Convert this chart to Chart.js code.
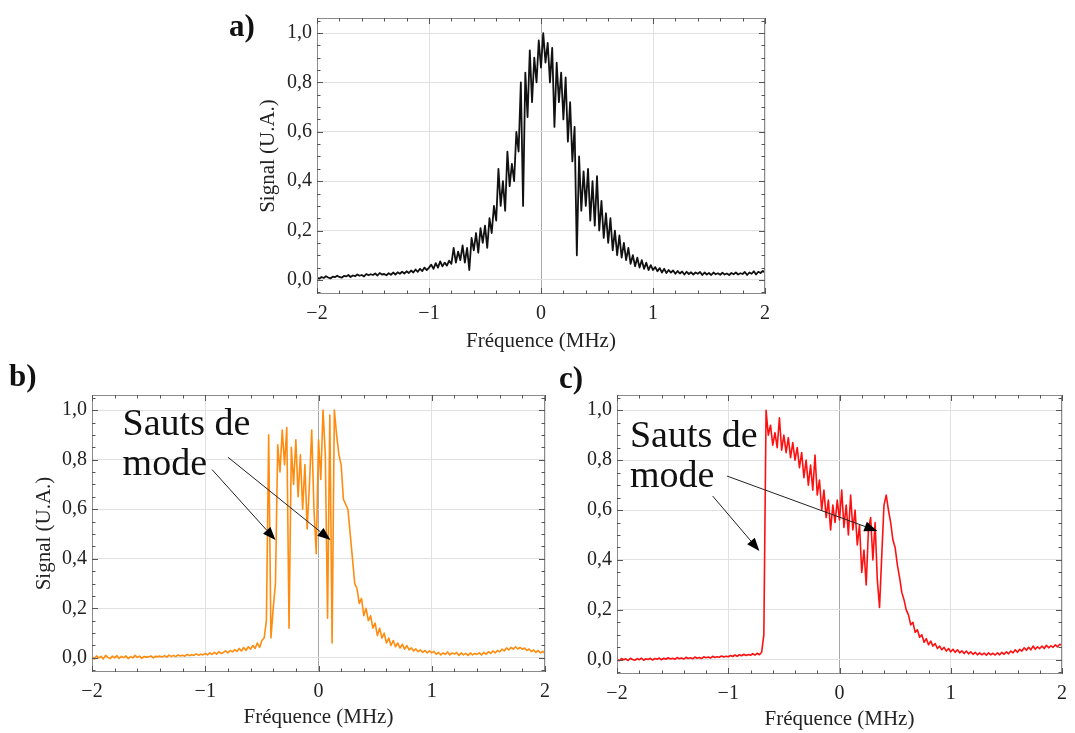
<!DOCTYPE html>
<html>
<head>
<meta charset="utf-8">
<script src="https://cdn.jsdelivr.net/npm/chart.js@4"></script>
<style>
  body { margin: 0; background: #fff; }
  #page { position: relative; width: 1075px; height: 733px; }
  #page canvas { position: absolute; left: 0; top: 0; }
</style>
</head>
<body>
<div id="page">
  <canvas id="chartA" width="1075" height="733"></canvas>
  <canvas id="chartB" width="1075" height="733"></canvas>
  <canvas id="chartC" width="1075" height="733"></canvas>
</div>
<script>
// fréquences (MHz), pas de 0,02
const freq = [
  -2,-1.98,-1.96,-1.94,-1.92,-1.9,-1.88,-1.86,-1.84,-1.82,
  -1.8,-1.78,-1.76,-1.74,-1.72,-1.7,-1.68,-1.66,-1.64,-1.62,
  -1.6,-1.58,-1.56,-1.54,-1.52,-1.5,-1.48,-1.46,-1.44,-1.42,
  -1.4,-1.38,-1.36,-1.34,-1.32,-1.3,-1.28,-1.26,-1.24,-1.22,
  -1.2,-1.18,-1.16,-1.14,-1.12,-1.1,-1.08,-1.06,-1.04,-1.02,
  -1,-0.98,-0.96,-0.94,-0.92,-0.9,-0.88,-0.86,-0.84,-0.82,
  -0.8,-0.78,-0.76,-0.74,-0.72,-0.7,-0.68,-0.66,-0.64,-0.62,
  -0.6,-0.58,-0.56,-0.54,-0.52,-0.5,-0.48,-0.46,-0.44,-0.42,
  -0.4,-0.38,-0.36,-0.34,-0.32,-0.3,-0.28,-0.26,-0.24,-0.22,
  -0.2,-0.18,-0.16,-0.14,-0.12,-0.1,-0.08,-0.06,-0.04,-0.02,
  0,0.02,0.04,0.06,0.08,0.1,0.12,0.14,0.16,0.18,
  0.2,0.22,0.24,0.26,0.28,0.3,0.32,0.34,0.36,0.38,
  0.4,0.42,0.44,0.46,0.48,0.5,0.52,0.54,0.56,0.58,
  0.6,0.62,0.64,0.66,0.68,0.7,0.72,0.74,0.76,0.78,
  0.8,0.82,0.84,0.86,0.88,0.9,0.92,0.94,0.96,0.98,
  1,1.02,1.04,1.06,1.08,1.1,1.12,1.14,1.16,1.18,
  1.2,1.22,1.24,1.26,1.28,1.3,1.32,1.34,1.36,1.38,
  1.4,1.42,1.44,1.46,1.48,1.5,1.52,1.54,1.56,1.58,
  1.6,1.62,1.64,1.66,1.68,1.7,1.72,1.74,1.76,1.78,
  1.8,1.82,1.84,1.86,1.88,1.9,1.92,1.94,1.96,1.98,
  2
];

// a) signal sans sauts de mode
const signalA = [
  0.01,0.005,0.012,0.008,0.015,0.01,0.006,0.013,0.011,0.017,
  0.012,0.009,0.016,0.014,0.02,0.012,0.018,0.015,0.022,0.017,
  0.02,0.014,0.024,0.019,0.023,0.02,0.026,0.018,0.028,0.022,
  0.024,0.019,0.027,0.021,0.03,0.022,0.031,0.025,0.033,0.026,
  0.035,0.028,0.038,0.03,0.042,0.033,0.045,0.036,0.05,0.04,
  0.05,0.062,0.045,0.068,0.05,0.075,0.055,0.07,0.058,0.078,
  0.065,0.13,0.07,0.115,0.08,0.14,0.07,0.13,0.04,0.17,
  0.12,0.19,0.11,0.21,0.15,0.22,0.13,0.25,0.19,0.3,
  0.24,0.45,0.3,0.4,0.28,0.52,0.38,0.47,0.4,0.6,
  0.52,0.8,0.3,0.84,0.66,0.93,0.72,0.9,0.8,0.97,
  0.86,1.0,0.88,0.96,0.8,0.94,0.62,0.88,0.72,0.84,
  0.65,0.82,0.56,0.72,0.48,0.62,0.1,0.5,0.28,0.44,
  0.3,0.45,0.24,0.4,0.22,0.42,0.2,0.32,0.17,0.27,
  0.15,0.25,0.12,0.2,0.1,0.18,0.09,0.15,0.08,0.13,
  0.065,0.1,0.055,0.09,0.05,0.08,0.045,0.07,0.04,0.06,
  0.04,0.052,0.035,0.048,0.03,0.045,0.028,0.04,0.03,0.038,
  0.025,0.036,0.026,0.034,0.022,0.033,0.024,0.031,0.022,0.03,
  0.025,0.032,0.02,0.03,0.022,0.028,0.02,0.03,0.023,0.027,
  0.021,0.029,0.022,0.026,0.02,0.028,0.023,0.03,0.022,0.027,
  0.024,0.032,0.02,0.03,0.025,0.035,0.022,0.033,0.028,0.036,
  0.03
];

// b) sauts de mode (orange)
const signalB = [
  0.005,-0.005,0.008,0,0.006,-0.004,0.01,0.002,-0.003,0.007,
  0,0.009,-0.002,0.006,0.001,0.008,-0.003,0.005,0,0.01,
  0.002,0.007,-0.002,0.006,0.003,0.004,0.008,0,0.006,0.005,
  0.007,0.004,0.009,0.003,0.011,0.006,0.01,0.005,0.012,0.008,
  0.011,0.007,0.014,0.009,0.013,0.01,0.016,0.011,0.015,0.012,
  0.018,0.012,0.02,0.014,0.022,0.015,0.025,0.018,0.022,0.028,
  0.02,0.03,0.024,0.033,0.026,0.038,0.028,0.042,0.03,0.045,
  0.035,0.05,0.038,0.06,0.042,0.07,0.08,0.15,0.9,0.08,
  0.2,0.3,0.86,0.75,0.92,0.78,0.93,0.12,0.85,0.7,
  0.88,0.65,0.82,0.6,0.78,0.52,0.7,0.92,0.6,0.42,
  0.88,0.72,1.0,0.82,0.16,0.98,0.06,1.0,0.9,0.82,
  0.78,0.64,0.62,0.6,0.5,0.4,0.3,0.28,0.22,0.24,
  0.17,0.2,0.15,0.17,0.12,0.14,0.09,0.12,0.08,0.1,
  0.06,0.08,0.05,0.07,0.045,0.06,0.04,0.055,0.035,0.05,
  0.032,0.04,0.028,0.036,0.025,0.032,0.022,0.03,0.02,0.028,
  0.02,0.026,0.015,0.022,0.012,0.02,0.014,0.024,0.012,0.02,
  0.015,0.022,0.01,0.02,0.012,0.018,0.01,0.02,0.012,0.018,
  0.014,0.02,0.012,0.022,0.015,0.025,0.018,0.028,0.02,0.03,
  0.024,0.035,0.028,0.04,0.032,0.042,0.035,0.045,0.036,0.042,
  0.035,0.04,0.03,0.036,0.025,0.032,0.022,0.03,0.02,0.026,
  0.018
];

// c) sauts de mode (rouge)
const signalC = [
  0.002,-0.004,0.005,0,0.004,-0.003,0.006,0.001,-0.002,0.005,
  0,0.007,-0.002,0.004,0.001,0.006,-0.001,0.005,0.002,0.007,
  0,0.006,0.002,0.008,0.003,0.006,0.002,0.009,0.004,0.007,
  0.003,0.01,0.005,0.008,0.004,0.011,0.006,0.009,0.005,0.012,
  0.008,0.011,0.007,0.014,0.009,0.012,0.01,0.015,0.011,0.014,
  0.012,0.017,0.013,0.019,0.014,0.02,0.016,0.022,0.017,0.021,
  0.018,0.024,0.019,0.026,0.02,0.03,0.1,1.0,0.9,0.94,
  0.86,0.91,0.85,0.97,0.84,0.9,0.83,0.89,0.81,0.87,
  0.8,0.85,0.77,0.83,0.73,0.8,0.7,0.78,0.68,0.82,
  0.66,0.72,0.6,0.68,0.57,0.64,0.52,0.62,0.55,0.64,
  0.56,0.68,0.53,0.62,0.5,0.66,0.52,0.6,0.46,0.54,
  0.35,0.44,0.3,0.52,0.57,0.4,0.55,0.32,0.21,0.42,
  0.62,0.66,0.6,0.55,0.48,0.45,0.38,0.33,0.27,0.24,
  0.2,0.18,0.14,0.15,0.11,0.12,0.09,0.1,0.07,0.085,
  0.06,0.075,0.055,0.065,0.045,0.055,0.04,0.05,0.035,0.045,
  0.032,0.042,0.03,0.04,0.028,0.036,0.025,0.035,0.024,0.032,
  0.022,0.03,0.02,0.028,0.02,0.027,0.018,0.028,0.02,0.026,
  0.019,0.028,0.02,0.03,0.022,0.032,0.024,0.035,0.028,0.04,
  0.03,0.042,0.035,0.048,0.038,0.05,0.04,0.055,0.042,0.052,
  0.045,0.055,0.045,0.058,0.048,0.056,0.05,0.06,0.052,0.062,
  0.058
];

const xTickValues = [-2, -1, 0, 1, 2];
const xTickLabels = ['\u22122', '\u22121', '0', '1', '2'];
const yTickValues = [0, 0.2, 0.4, 0.6, 0.8, 1.0];
const yTickLabels = ['0,0', '0,2', '0,4', '0,6', '0,8', '1,0'];

const SERIF = "'Liberation Serif', 'DejaVu Serif', serif";
const PAGE_W = 1075, PAGE_H = 733;

// cadre + petites graduations sur les quatre côtés
const frameTicks = {
  id: 'frameTicks',
  afterDraw(chart) {
    const { ctx, chartArea: a, scales: { x, y } } = chart;
    ctx.save();
    ctx.strokeStyle = '#8a8a8a';
    ctx.lineWidth = 1;
    ctx.strokeRect(a.left + 0.5, a.top + 0.5, a.right - a.left - 1, a.bottom - a.top - 1);
    ctx.strokeStyle = '#555';
    for (let k = -10; k <= 10; k++) {
      const px = Math.round(x.getPixelForValue(k * 0.2)) + 0.5;
      const len = k % 5 === 0 ? 6 : 3.5;
      ctx.beginPath();
      ctx.moveTo(px, a.bottom); ctx.lineTo(px, a.bottom - len);
      ctx.moveTo(px, a.top); ctx.lineTo(px, a.top + len);
      ctx.stroke();
    }
    for (let k = -1; k <= 21; k++) {
      const py = Math.round(y.getPixelForValue(k * 0.05)) + 0.5;
      if (py < a.top || py > a.bottom) continue;
      const len = k % 4 === 0 ? 6 : 3.5;
      ctx.beginPath();
      ctx.moveTo(a.left, py); ctx.lineTo(a.left + len, py);
      ctx.moveTo(a.right, py); ctx.lineTo(a.right - len, py);
      ctx.stroke();
    }
    ctx.restore();
  }
};

function arrow(ctx, x0, y0, x1, y1) {
  const ang = Math.atan2(y1 - y0, x1 - x0);
  const hl = 13, hw = 5;
  const bx = x1 - hl * Math.cos(ang), by = y1 - hl * Math.sin(ang);
  ctx.beginPath();
  ctx.moveTo(x0, y0); ctx.lineTo(bx, by);
  ctx.stroke();
  ctx.beginPath();
  ctx.moveTo(x1, y1);
  ctx.lineTo(bx + hw * Math.sin(ang), by - hw * Math.cos(ang));
  ctx.lineTo(bx - hw * Math.sin(ang), by + hw * Math.cos(ang));
  ctx.closePath();
  ctx.fill();
}

// lettre du panneau + texte "Sauts de mode" et flèches (en coordonnées de données)
const notes = {
  id: 'notes',
  afterDraw(chart, args, opts) {
    const { ctx, scales: { x, y } } = chart;
    ctx.save();
    ctx.fillStyle = '#111';
    ctx.font = 'bold 31px ' + SERIF;
    ctx.textBaseline = 'middle';
    ctx.textAlign = 'left';
    ctx.fillText(opts.letter, opts.letterX, opts.letterY);
    if (opts.text) {
      ctx.font = '38px ' + SERIF;
      ctx.textBaseline = 'alphabetic';
      opts.text.forEach(t => ctx.fillText(t.s, x.getPixelForValue(t.x), y.getPixelForValue(t.y)));
      ctx.strokeStyle = '#222';
      ctx.fillStyle = '#000';
      ctx.lineWidth = 1;
      opts.arrows.forEach(r => arrow(ctx,
        x.getPixelForValue(r[0]), y.getPixelForValue(r[1]),
        x.getPixelForValue(r[2]), y.getPixelForValue(r[3])));
    }
    ctx.restore();
  }
};

function makePanel(canvasId, values, color, box, extra) {
  const yW = box.left - box.padLeft;
  return new Chart(document.getElementById(canvasId), {
    type: 'line',
    data: {
      datasets: [{
        data: freq.map((f, i) => ({ x: f, y: values[i] })),
        borderColor: color,
        borderWidth: extra.lineWidth,
        borderJoinStyle: 'round',
        pointRadius: 0,
        tension: 0
      }]
    },
    options: {
      responsive: false,
      animation: false,
      devicePixelRatio: 1,
      layout: {
        padding: {
          left: box.padLeft,
          right: PAGE_W - box.right,
          top: box.top,
          bottom: PAGE_H - box.bottom - box.xH
        }
      },
      scales: {
        x: {
          type: 'linear', min: -2, max: 2,
          afterBuildTicks: s => { s.ticks = xTickValues.map(v => ({ value: v })); },
          afterFit: s => { s.height = box.xH; },
          ticks: {
            padding: 8, color: '#222', maxRotation: 0,
            font: { family: SERIF, size: 20 },
            callback: (v, i) => xTickLabels[i]
          },
          grid: {
            drawTicks: false,
            color: c => (c.tick && c.tick.value === 0 ? '#a8a8a8' : '#e1e1e1')
          },
          border: { display: false },
          title: {
            display: true, text: 'Fréquence (MHz)', color: '#222',
            font: { family: SERIF, size: 21 }, padding: 0
          }
        },
        y: {
          type: 'linear', min: -0.057, max: 1.061,
          afterBuildTicks: s => { s.ticks = yTickValues.map(v => ({ value: v })); },
          afterFit: s => { s.width = yW; },
          ticks: {
            padding: 5, color: '#222',
            font: { family: SERIF, size: 20 },
            callback: (v, i) => yTickLabels[i]
          },
          grid: { drawTicks: false, color: '#e1e1e1' },
          border: { display: false },
          title: {
            display: extra.yTitle, text: 'Signal (U.A.)', color: '#222',
            font: { family: SERIF, size: 21 }, padding: 0
          }
        }
      },
      plugins: {
        legend: { display: false },
        tooltip: { enabled: false },
        notes: extra.notes
      }
    },
    plugins: [frameTicks, notes]
  });
}

makePanel('chartA', signalA, '#111111',
  { left: 317, right: 765, top: 18, bottom: 294, xH: 60, padLeft: 256 },
  { yTitle: true, lineWidth: 1.8,
    notes: { letter: 'a)', letterX: 229, letterY: 28 } });

makePanel('chartB', signalB, '#ff8c0f',
  { left: 92, right: 545, top: 395, bottom: 672, xH: 58, padLeft: 32 },
  { yTitle: true, lineWidth: 1.6,
    notes: {
      letter: 'b)', letterX: 9, letterY: 378,
      text: [{ s: 'Sauts de', x: -1.73, y: 0.9 }, { s: 'mode', x: -1.73, y: 0.74 }],
      arrows: [[-0.94, 0.76, -0.38, 0.476], [-0.8, 0.81, 0.106, 0.476]]
    } });

makePanel('chartC', signalC, '#ff1010',
  { left: 617, right: 1067, top: 395, bottom: 674, xH: 58, padLeft: 567 },
  { yTitle: false, lineWidth: 1.6,
    notes: {
      letter: 'c)', letterX: 559, letterY: 380,
      text: [{ s: 'Sauts de', x: -1.884, y: 0.852 }, { s: 'mode', x: -1.884, y: 0.692 }],
      arrows: [[-1.14, 0.656, -0.72, 0.436], [-1.01, 0.736, 0.34, 0.516]]
    } });
</script>
</body>
</html>
